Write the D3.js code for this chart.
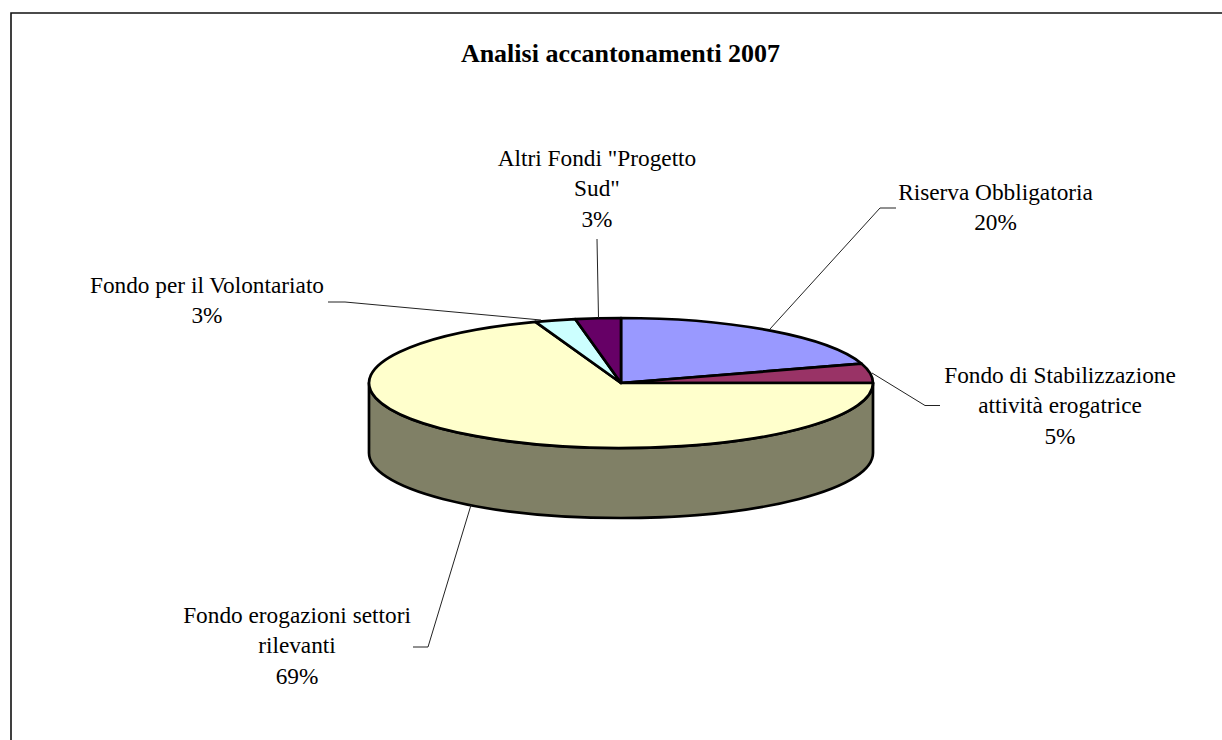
<!DOCTYPE html>
<html>
<head>
<meta charset="utf-8">
<script src="https://cdn.jsdelivr.net/npm/d3@7"></script>
<style>
	html, body { margin: 0; padding: 0; background: #fff; }
	svg { display: block; }
	text { font-family: "Liberation Serif", serif; fill: #000; }
</style>
</head>
<body>
<div id="chart"></div>
<script>
// Data
const chartTitle = 'Analisi accantonamenti 2007';
const categories = [
	'Riserva Obbligatoria',
	'Fondo di Stabilizzazione attività erogatrice',
	'Fondo erogazioni settori rilevanti',
	'Fondo per il Volontariato',
	'Altri Fondi "Progetto Sud"'
];
const values = [20.2, 4.8, 69.49, 2.6, 2.91];
const sliceColors = ['#9999ff', '#993366', '#ffffcc', '#ccffff', '#660066'];

// label text is broken by hand, same as in the original
const labelLines = [
	['Riserva Obbligatoria'],
	['Fondo di Stabilizzazione', 'attività erogatrice'],
	['Fondo erogazioni settori', 'rilevanti'],
	['Fondo per il Volontariato'],
	['Altri Fondi "Progetto', 'Sud"']
];

// Layout
const width = 1222,
		height = 740,
		cx = 621,
		cy = 383,
		rx = 252,
		ry = 65,
		depth = 70,
		labelSize = 23.3,
		titleSize = 26,
		lineHeight = 30.3,
		pieStroke = 2.7;

// x, y of first baseline, then leader polyline
const labelLayout = [
	{ x: 995.5, y: 200, leader: [[896, 208], [880, 208], [770, 329]] },
	{ x: 1060, y: 383, leader: [[940, 405.5], [925, 405.5], [872, 373]] },
	{ x: 297, y: 623, leader: [[413, 647], [428, 647], [471, 505]] },
	{ x: 207, y: 293, leader: [[328, 302], [345, 302], [541, 320]] },
	{ x: 597, y: 166, leader: [[597, 239], [598.5, 318]] }
];

const svg = d3.select('#chart')
	.append('svg')
		.attr('width', width)
		.attr('height', height);

// chart frame, only top and left fall inside the picture
svg.append('path')
	.attr('d', d3.line()([[11, height], [11, 13], [width, 13]]))
	.attr('fill', 'none')
	.attr('stroke', '#111')
	.attr('stroke-width', 1.6);

svg.append('text')
	.attr('x', cx - 0.5)
	.attr('y', 62)
	.attr('text-anchor', 'middle')
	.attr('font-size', titleSize)
	.attr('font-weight', 'bold')
	.text(chartTitle);

const pieMkr = d3.pie().sort(null).value(d => d);
const arcs = pieMkr(values);

const arcMkr = d3.arc().innerRadius(0).outerRadius(rx);

function ellipsePoint(a, dy) {
	return [cx + rx * Math.sin(a), cy + dy - ry * Math.cos(a)];
}

// side wall, only the front half of the rim shows
function wallPath(a0, a1) {
	const p0 = ellipsePoint(a0, 0),
			p1 = ellipsePoint(a1, 0),
			q0 = ellipsePoint(a0, depth),
			q1 = ellipsePoint(a1, depth),
			big = a1 - a0 > Math.PI ? 1 : 0;
	return `M${p0}A${rx},${ry} 0 ${big} 1 ${p1}L${q1}A${rx},${ry} 0 ${big} 0 ${q0}Z`;
}

const front = arcs
	.map((d, i) => ({
		a0: Math.max(d.startAngle, Math.PI / 2),
		a1: Math.min(d.endAngle, Math.PI * 1.5),
		color: d3.rgb(sliceColors[i])
	}))
	.filter(d => d.a1 > d.a0);

svg.append('g').classed('walls', true)
	.selectAll('path')
	.data(front)
	.join('path')
		.attr('d', d => wallPath(d.a0, d.a1))
		.attr('fill', d => d3.rgb(d.color.r / 2, d.color.g / 2, d.color.b / 2))
		.attr('stroke', '#000')
		.attr('stroke-width', pieStroke)
		.attr('stroke-linejoin', 'round');

svg.append('g').classed('slices', true)
	.attr('transform', `translate(${cx},${cy}) scale(1,${ry / rx})`)
	.selectAll('path')
	.data(arcs)
	.join('path')
		.attr('d', arcMkr)
		.attr('fill', (d, i) => sliceColors[i])
		.attr('stroke', '#000')
		.attr('stroke-width', pieStroke)
		.attr('stroke-linejoin', 'round')
		.attr('vector-effect', 'non-scaling-stroke');

svg.append('g').classed('leaders', true)
	.selectAll('path')
	.data(labelLayout)
	.join('path')
		.attr('d', d => d3.line()(d.leader))
		.attr('fill', 'none')
		.attr('stroke', '#222')
		.attr('stroke-width', 1);

const labels = svg.append('g').classed('labels', true)
	.selectAll('text')
	.data(categories)
	.join('text')
		.attr('font-size', labelSize)
		.attr('text-anchor', 'middle')
		.attr('data-name', d => d);

labels.selectAll('tspan')
	.data((d, i) => labelLines[i]
		.concat(Math.round(values[i]) + '%')
		.map(line => ({ line, pos: labelLayout[i] })))
	.join('tspan')
		.attr('x', d => d.pos.x)
		.attr('y', (d, j) => d.pos.y + j * lineHeight)
		.text(d => d.line);
</script>
</body>
</html>
